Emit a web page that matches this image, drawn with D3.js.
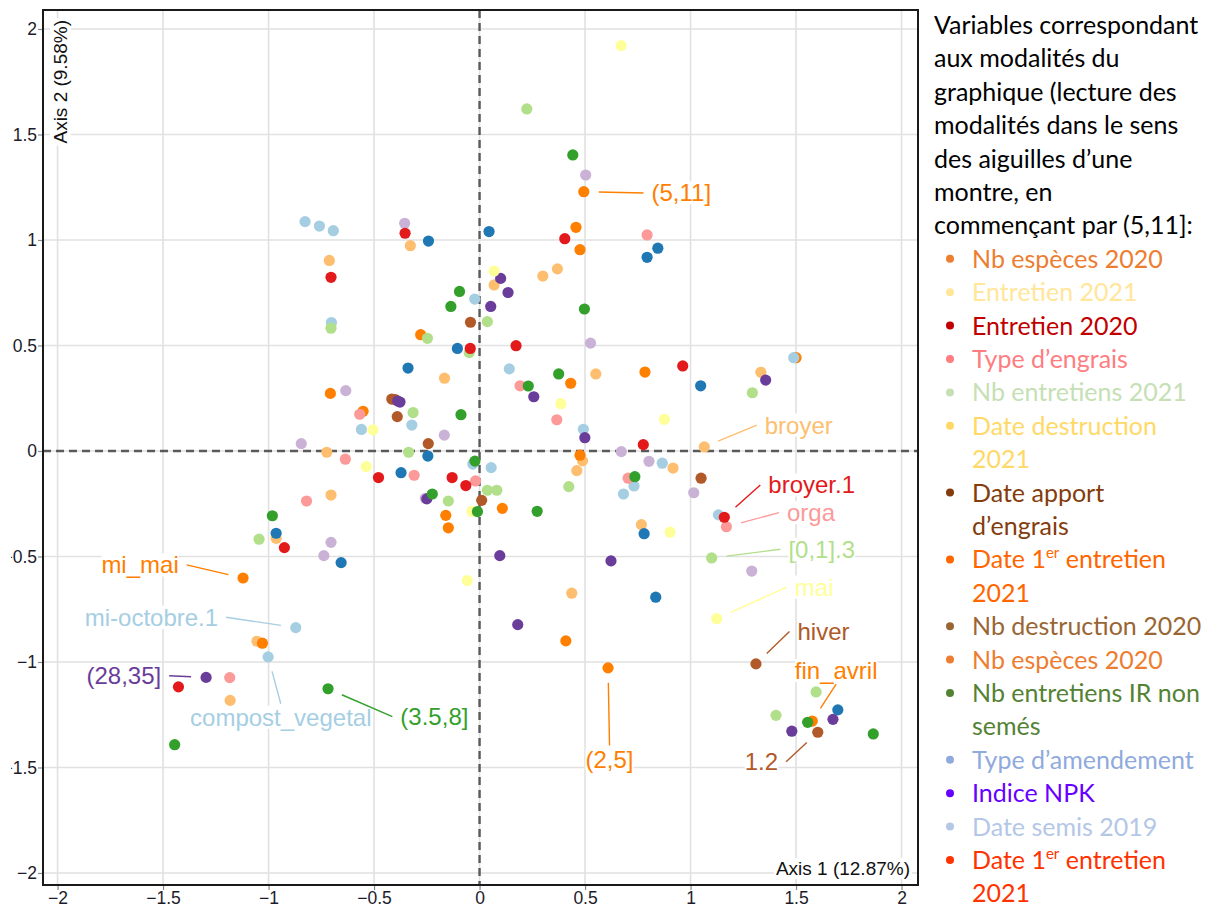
<!DOCTYPE html>
<html>
<head>
<meta charset="utf-8">
<script src="https://cdn.jsdelivr.net/npm/d3@7"></script>
<style>
  body { margin: 0; background: #fff; }
  svg { display: block; font-family: "Liberation Sans", Arial, sans-serif; }
</style>
</head>
<body>
<svg id="chart" width="1208" height="907"></svg>
<script>
// ---- individual coordinates (Dim 1, Dim 2), one array per colour group ----
const lightOrange = [[-0.328,0.973],[-0.712,0.903],[0.069,0.787],[0.300,0.829],[0.369,0.863],[-0.166,0.345],[0.551,0.365],[1.333,0.373],[-0.724,-0.006],[0.488,-0.047],[0.461,-0.093],[0.917,-0.081],[1.065,0.019],[-0.704,-0.209],[-0.964,-0.414],[0.767,-0.349],[0.437,-0.674],[-1.055,-0.902],[-1.182,-1.182]];
const orange = [[0.494,1.229],[0.457,1.060],[0.476,0.954],[-0.279,0.551],[-0.707,0.273],[-0.552,0.188],[0.432,0.321],[0.784,0.374],[0.476,-0.020],[0.108,-0.272],[-0.160,-0.305],[-0.148,-0.364],[-1.121,-0.602],[0.409,-0.900],[0.609,-1.028],[-1.029,-0.911],[1.577,-1.280],[1.500,0.442]];
const lightBlue = [[-0.827,1.087],[-0.759,1.066],[-0.693,1.044],[-0.023,0.720],[-0.702,0.609],[0.141,0.389],[-0.560,0.102],[-0.321,0.123],[0.492,0.103],[-0.032,-0.062],[0.055,-0.079],[0.866,-0.058],[0.732,-0.166],[0.682,-0.204],[1.132,-0.303],[1.489,0.442],[-0.871,-0.837],[-1.002,-0.976]];
const lightGreen = [[0.224,1.621],[-0.704,0.582],[-0.247,0.534],[-0.049,0.466],[0.037,0.613],[-0.315,0.182],[-0.336,-0.006],[-0.148,-0.237],[0.037,-0.186],[0.082,-0.186],[0.423,-0.169],[1.293,0.276],[1.100,-0.507],[-1.045,-0.418],[1.595,-1.142],[1.405,-1.253]];
const blue = [[-0.242,0.995],[0.045,1.040],[0.794,0.918],[0.845,0.961],[-0.105,0.486],[-0.339,0.393],[1.048,0.309],[-0.245,-0.024],[-0.372,-0.103],[-0.964,-0.390],[-0.656,-0.529],[0.780,-0.392],[0.835,-0.693],[1.698,-1.227]];
const lightPurple = [[0.503,1.308],[-0.355,1.079],[-0.634,0.286],[-0.845,0.035],[-0.167,0.075],[0.526,0.511],[0.672,-0.003],[0.803,-0.049],[1.015,-0.198],[-0.257,-0.224],[-0.704,-0.433],[-0.738,-0.496],[1.290,-0.569]];
const brown = [[-0.043,0.610],[-0.416,0.246],[-0.400,0.244],[-0.390,0.163],[-0.243,0.035],[1.050,-0.129],[0.010,-0.234],[1.310,-1.009],[1.603,-1.333]];
const purple = [[0.100,0.818],[0.135,0.751],[0.053,0.685],[-0.388,0.237],[-0.377,0.232],[0.257,0.257],[0.499,0.063],[1.356,0.336],[-0.250,-0.227],[0.096,-0.496],[0.623,-0.521],[0.181,-0.823],[-1.296,-1.073],[1.675,-1.272],[1.480,-1.328]];
const yellow = [[0.671,1.921],[0.069,0.853],[-0.505,0.100],[0.385,0.224],[0.876,0.150],[-0.537,-0.074],[-0.036,-0.286],[0.903,-0.385],[-0.058,-0.614],[1.124,-0.795]];
const pink = [[0.794,1.024],[0.192,0.309],[-0.568,0.174],[0.366,0.148],[-0.636,-0.039],[-0.310,-0.115],[-0.019,-0.142],[0.704,-0.129],[-0.820,-0.237],[1.170,-0.359],[-1.184,-1.074]];
const red = [[-0.353,1.032],[0.404,1.006],[-0.704,0.823],[-0.044,0.486],[0.173,0.499],[0.963,0.403],[0.776,0.030],[-0.479,-0.126],[-0.130,-0.126],[-0.065,-0.164],[-0.925,-0.458],[1.160,-0.314],[-1.427,-1.118]];
const green = [[0.442,1.403],[-0.095,0.756],[-0.136,0.685],[0.497,0.673],[-0.088,0.172],[0.375,0.365],[0.231,0.308],[-0.022,-0.048],[-0.010,-0.287],[-0.224,-0.204],[0.273,-0.286],[0.736,-0.122],[-0.982,-0.307],[-0.718,-1.127],[-1.445,-1.392],[1.555,-1.286],[1.866,-1.341]];

// drawing order and colours (Paired palette)
const seriesData = [lightOrange, orange, lightBlue, lightGreen, blue, lightPurple, brown, purple, yellow, pink, red, green];
const seriesColors = ['#fdbf6f', '#ff7f00', '#a6cee3', '#b2df8a', '#1f78b4', '#cab2d6', '#b15928', '#6a3d9a', '#ffff99', '#fb9a99', '#e31a1c', '#33a02c'];

// labelled modalities: text, series index, point index
const labelTexts = ['(5,11]', 'broyer', 'broyer.1', 'orga', '[0,1].3', 'mai', 'hiver', 'fin_avril', '1.2', '(2,5]', 'mi_mai', 'mi-octobre.1', '(28,35]', 'compost_vegetal', '(3.5,8]'];
const labelSeries = [1, 0, 10, 9, 3, 8, 6, 1, 6, 1, 1, 2, 7, 2, 11];
const labelPoint  = [0, 12, 11, 9, 12, 9, 7, 16, 8, 14, 12, 16, 12, 17, 13];
// where the repelled labels sit (data units, label centre)
const labelSpot = [[0.956,1.223],[1.513,0.123],[1.574,-0.161],[1.571,-0.292],[1.622,-0.466],[1.586,-0.645],[1.630,-0.856],[1.690,-1.041],[1.336,-1.473],[0.616,-1.460],[-1.609,-0.540],[-1.555,-0.788],[-1.686,-1.065],[-0.942,-1.262],[-0.214,-1.259]];

const xTicks = [-2, -1.5, -1, -0.5, 0, 0.5, 1, 1.5, 2];
const yTicks = [-2, -1.5, -1, -0.5, 0, 0.5, 1, 1.5, 2];
const xTitle = 'Axis 1 (12.87%)';
const yTitle = 'Axis 2 (9.58%)';

// right-hand note
const noteLines = ['Variables correspondant', 'aux modalités du', 'graphique (lecture des', 'modalités dans le sens', 'des aiguilles d’une', 'montre, en', 'commençant par (5,11]:'];
const legendItems = [
  ['Nb espèces 2020'], ['Entretien 2021'], ['Entretien 2020'], ['Type d’engrais'], ['Nb entretiens 2021'],
  ['Date destruction', '2021'], ['Date apport', 'd’engrais'], ['Date 1^er entretien', '2021'],
  ['Nb destruction 2020'], ['Nb espèces 2020'], ['Nb entretiens IR non', 'semés'],
  ['Type d’amendement'], ['Indice NPK'], ['Date semis 2019'], ['Date 1^er entretien', '2021']
];
const legendColors = ['#ed7d31', '#ffe699', '#c00000', '#ff7c80', '#c5e0b4', '#ffd966', '#843c0c', '#ff6600', '#996633', '#ed7d31', '#548235', '#8faadc', '#6600ff', '#b4c7e7', '#ff3300'];

// ---------------------------------------------------------------
const svg = d3.select('#chart');
const panel = { left: 43, top: 10, right: 918, bottom: 885 };

const x = d3.scaleLinear().domain([-2.069, 2.078]).range([panel.left, panel.right]);
const y = d3.scaleLinear().domain([-2.057, 2.09]).range([panel.bottom, panel.top]);
const fmt = d3.format('');

// grid
const grid = svg.append('g');
grid.selectAll('.gx').data(xTicks).enter().append('line')
  .attr('x1', d => x(d)).attr('x2', d => x(d))
  .attr('y1', panel.top).attr('y2', panel.bottom)
  .attr('stroke', '#e1e1e1').attr('stroke-width', 1.6);
grid.selectAll('.gy').data(yTicks).enter().append('line')
  .attr('x1', panel.left).attr('x2', panel.right)
  .attr('y1', d => y(d)).attr('y2', d => y(d))
  .attr('stroke', '#e1e1e1').attr('stroke-width', 1.6);

// zero lines
svg.append('line')
  .attr('x1', x(0)).attr('x2', x(0)).attr('y1', panel.top).attr('y2', panel.bottom)
  .attr('stroke', '#5a5a5a').attr('stroke-width', 2.4).attr('stroke-dasharray', '8,5');
svg.append('line')
  .attr('x1', panel.left).attr('x2', panel.right).attr('y1', y(0)).attr('y2', y(0))
  .attr('stroke', '#5a5a5a').attr('stroke-width', 2.4).attr('stroke-dasharray', '8,5');

// axis titles with white boxes
const titleBg = svg.append('g');
const xt = svg.append('text')
  .attr('x', 910).attr('y', 875)
  .attr('text-anchor', 'end')
  .attr('font-size', 19).attr('fill', '#111')
  .text(xTitle);
const yt = svg.append('text')
  .attr('transform', 'translate(67,20) rotate(-90)')
  .attr('text-anchor', 'end')
  .attr('font-size', 19).attr('fill', '#111')
  .text(yTitle);
[xt, yt].forEach(t => {
  const b = t.node().getBBox();
  titleBg.append('rect')
    .attr('transform', t.attr('transform'))
    .attr('x', b.x - 2).attr('y', b.y).attr('width', b.width + 4).attr('height', b.height)
    .attr('fill', '#fff');
});

// label backgrounds go under the points
const labelBg = svg.append('g');

// points
seriesData.forEach((pts, i) => {
  svg.append('g').selectAll('circle').data(pts).enter().append('circle')
    .attr('cx', d => x(d[0]))
    .attr('cy', d => y(d[1]))
    .attr('r', 5.6)
    .attr('fill', seriesColors[i]);
});

// labels + segments
const segLayer = svg.append('g');
const textLayer = svg.append('g');
labelTexts.forEach((txt, i) => {
  const col = seriesColors[labelSeries[i]];
  const p = seriesData[labelSeries[i]][labelPoint[i]];
  const px = x(p[0]), py = y(p[1]);
  const t = textLayer.append('text')
    .attr('x', x(labelSpot[i][0])).attr('y', y(labelSpot[i][1]))
    .attr('text-anchor', 'middle').attr('dominant-baseline', 'central')
    .attr('font-size', 24).attr('fill', col)
    .text(txt);
  const b = t.node().getBBox();
  labelBg.append('rect')
    .attr('x', b.x).attr('y', b.y + 2).attr('width', b.width).attr('height', b.height - 4)
    .attr('fill', '#fff');
  // connect to nearest edge midpoint of padded box
  const padX = 8, padY = 0;
  const cx = b.x + b.width / 2, cy = b.y + b.height / 2;
  const cands = [
    [b.x - padX, cy], [b.x + b.width + padX, cy],
    [cx, b.y - padY], [cx, b.y + b.height + padY]
  ];
  let best = cands[0], bd = Infinity;
  cands.forEach(c => {
    const dd = Math.hypot(c[0] - px, c[1] - py);
    if (dd < bd) { bd = dd; best = c; }
  });
  const ux = (best[0] - px) / bd, uy = (best[1] - py) / bd;
  segLayer.append('line')
    .attr('x1', px + ux * 15).attr('y1', py + uy * 15)
    .attr('x2', best[0]).attr('y2', best[1])
    .attr('stroke', col).attr('stroke-width', 1.4);
});

// axes
const xAxis = svg.append('g')
  .attr('transform', `translate(0,${panel.bottom})`)
  .call(d3.axisBottom(x).tickValues(xTicks).tickSize(5).tickPadding(1.5).tickFormat(fmt));
const yAxis = svg.append('g')
  .attr('transform', `translate(${panel.left},0)`)
  .call(d3.axisLeft(y).tickValues(yTicks).tickSize(5).tickPadding(1).tickFormat(fmt));
svg.append('clipPath').attr('id', 'yclip')
  .append('rect').attr('x', 11 - panel.left).attr('y', 0).attr('width', panel.left - 11).attr('height', 907);
yAxis.attr('clip-path', 'url(#yclip)');
[xAxis, yAxis].forEach(a => {
  a.attr('font-size', null).attr('font-family', null);
  a.select('.domain').remove();
  a.selectAll('.tick line').attr('stroke', '#8a8a8a').attr('stroke-width', 1.2);
  a.selectAll('.tick text').attr('font-size', 17.5).attr('fill', '#1c1c2a');
});

// panel border
svg.append('rect')
  .attr('x', panel.left).attr('y', panel.top)
  .attr('width', panel.right - panel.left).attr('height', panel.bottom - panel.top)
  .attr('fill', 'none').attr('stroke', '#1a1a1a').attr('stroke-width', 2);

// right-hand note and legend
const note = svg.append('g').attr('font-family', 'Lato, "Open Sans", sans-serif').attr('font-size', 25);
const lineStep = 33.4, firstBase = 34;
noteLines.forEach((ln, i) => {
  note.append('text').attr('x', 934).attr('y', firstBase + lineStep * i).attr('fill', '#000').text(ln);
});
let row = noteLines.length;
legendItems.forEach((lines, i) => {
  const col = legendColors[i];
  note.append('circle')
    .attr('cx', 950).attr('cy', firstBase + lineStep * row - 9)
    .attr('r', 4).attr('fill', col);
  lines.forEach(ln => {
    const t = note.append('text').attr('x', 972).attr('y', firstBase + lineStep * row).attr('fill', col);
    const parts = ln.split('^');
    if (parts.length === 1) {
      t.text(ln);
    } else {
      const m = parts[1].match(/^(\S+)(.*)$/);
      t.append('tspan').text(parts[0]);
      t.append('tspan').attr('dy', -10).attr('font-size', 15).text(m[1]);
      t.append('tspan').attr('dy', 10).text(m[2]);
    }
    row++;
  });
});
</script>
</body>
</html>
